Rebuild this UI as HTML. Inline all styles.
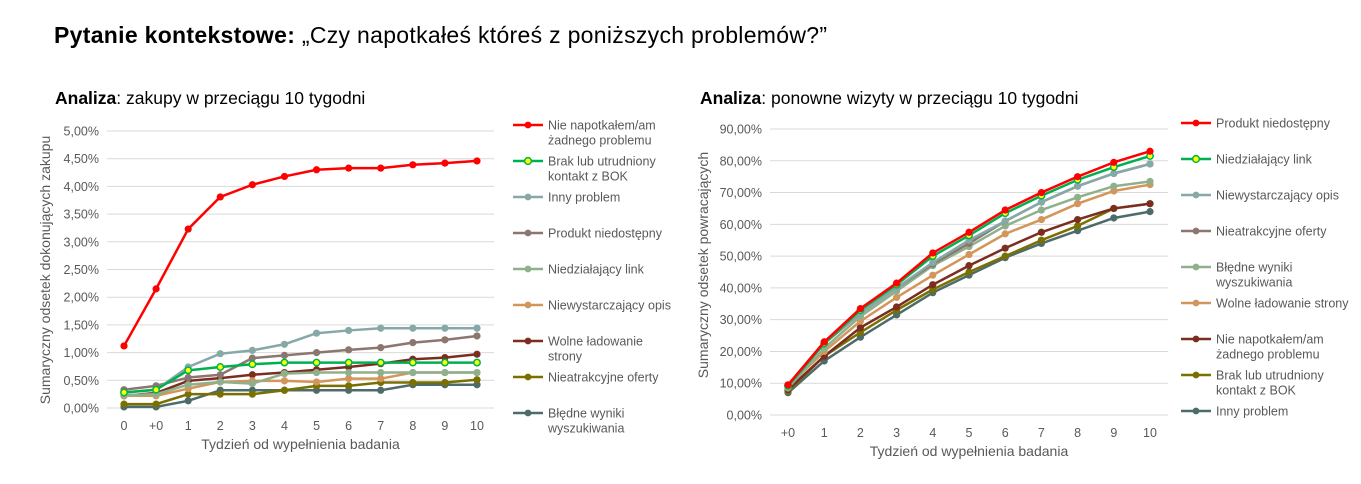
<!DOCTYPE html>
<html><head><meta charset="utf-8"><style>
body{margin:0;background:#fff;font-family:"Liberation Sans",Arial,sans-serif;}
svg text{font-family:"Liberation Sans",Arial,sans-serif;}
</style></head><body>
<svg id="s" width="1361" height="479" xmlns="http://www.w3.org/2000/svg">
<text x="54" y="43" font-size="23" letter-spacing="0.3" fill="#000"><tspan font-weight="bold">Pytanie kontekstowe:</tspan> „Czy napotkałeś któreś z poniższych problemów?”</text>
<text x="55" y="104" font-size="17.5" fill="#000"><tspan font-weight="bold">Analiza</tspan>: zakupy w przeciągu 10 tygodni</text>
<text x="700" y="104" font-size="17.5" fill="#000"><tspan font-weight="bold">Analiza</tspan>: ponowne wizyty w przeciągu 10 tygodni</text>
<g id="L"></g><g id="R"></g>
</svg>
<script>
const colors=["#ff0000","#00b050","#86a9a8","#8c7670","#8fb08c","#d4955a","#7b2e20","#7a7000","#4d6b6b"];
const leftCats=["0","+0","1","2","3","4","5","6","7","8","9","10"];
const leftTicks=["0,00%","0,50%","1,00%","1,50%","2,00%","2,50%","3,00%","3,50%","4,00%","4,50%","5,00%"];
const leftNames=[["Nie napotkałem/am","żadnego problemu"],["Brak lub utrudniony","kontakt z BOK"],["Inny problem"],["Produkt niedostępny"],["Niedziałający link"],["Niewystarczający opis"],["Wolne ładowanie","strony"],["Nieatrakcyjne oferty"],["Błędne wyniki","wyszukiwania"]];
const leftS0=[1.12,2.15,3.23,3.81,4.03,4.18,4.30,4.33,4.33,4.39,4.42,4.46];
const leftS1=[0.28,0.33,0.68,0.74,0.79,0.82,0.82,0.82,0.82,0.82,0.82,0.82];
const leftS2=[0.28,0.33,0.74,0.98,1.04,1.15,1.35,1.40,1.44,1.44,1.44,1.44];
const leftS3=[0.33,0.40,0.55,0.60,0.90,0.95,1.00,1.05,1.09,1.18,1.23,1.30];
const leftS4=[0.23,0.25,0.42,0.47,0.44,0.62,0.64,0.64,0.64,0.64,0.64,0.64];
const leftS5=[0.22,0.22,0.35,0.47,0.49,0.49,0.47,0.53,0.53,0.64,0.64,0.64];
const leftS6=[0.22,0.27,0.49,0.54,0.60,0.64,0.69,0.74,0.80,0.88,0.91,0.97];
const leftS7=[0.07,0.07,0.25,0.25,0.25,0.32,0.40,0.40,0.46,0.46,0.46,0.51];
const leftS8=[0.02,0.02,0.13,0.32,0.32,0.32,0.32,0.32,0.32,0.42,0.42,0.42];
const rightCats=["+0","1","2","3","4","5","6","7","8","9","10"];
const rightTicks=["0,00%","10,00%","20,00%","30,00%","40,00%","50,00%","60,00%","70,00%","80,00%","90,00%"];
const rightNames=[["Produkt niedostępny"],["Niedziałający link"],["Niewystarczający opis"],["Nieatrakcyjne oferty"],["Błędne wyniki","wyszukiwania"],["Wolne ładowanie strony"],["Nie napotkałem/am","żadnego problemu"],["Brak lub utrudniony","kontakt z BOK"],["Inny problem"]];
const rightS0=[9.5,23,33.5,41.5,51,57.5,64.5,70,75,79.5,83];
const rightS1=[9.2,22.5,33,41,50,56.5,63.5,69,74,78,81.5];
const rightS2=[9,23,32,40,48,55,61,67,72,76,79];
const rightS3=[9,22.5,32,40,47.5,54,61,67,72,76,79];
const rightS4=[8.5,21,31,39,47,53,59.5,64.5,68.5,72,73.5];
const rightS5=[9,20,29.5,37,44,50.5,57,61.5,66.5,70.5,72.5];
const rightS6=[8,18.5,27.5,34,41,47,52.5,57.5,61.5,65,66.5];
const rightS7=[7.5,18.5,26,33,39.5,45,50,55,59.5,65,66.5];
const rightS8=[7,17,24.5,31.5,38.5,44,49.5,54,58,62,64];
const NS="http://www.w3.org/2000/svg";
function mk(p,t,a){const e=document.createElementNS(NS,t);for(const k in a)e.setAttribute(k,a[k]);p.appendChild(e);return e;}
function chart(g,o){
 const{cats,ticks,series,names,x0,x1,y0,y1,ymax,gx0,gx1,leg,ylab,lx,ly}=o;
 const xs=i=>x0+(x1-x0)*i/(cats.length-1);
 const ys=v=>y0-(y0-y1)*v/ymax;
 ticks.forEach((t,i)=>{const v=ymax*i/(ticks.length-1);
  const l=mk(g,"line",{x1:gx0,x2:gx1,y1:ys(v),y2:ys(v),stroke:"#d9d9d9","stroke-width":1});
  
  
  const tx=mk(g,"text",{x:gx0-8,y:ys(v)+4.5,"text-anchor":"end","font-size":12.5,fill:"#595959"});tx.textContent=t;
  
  });
 cats.forEach((c,i)=>{const tx=mk(g,"text",{x:xs(i),y:y0+22,"text-anchor":"middle","font-size":12.5,fill:"#595959"});tx.textContent=c;
  
  });
 const xt=mk(g,"text",{x:(gx0+gx1)/2,y:y0+41,"text-anchor":"middle","font-size":14,fill:"#595959"});xt.textContent="Tydzień od wypełnienia badania";
 
 
 const yt=mk(g,"text",{x:0,y:0,"text-anchor":"middle","font-size":14,fill:"#595959",transform:`translate(${lx},${ly}) rotate(-90)`});yt.textContent=ylab;
 
 
 for(let s=series.length-1;s>=0;s--){const d=series[s];const c=colors[s];
  const pl=mk(g,"polyline",{points:d.map((v,i)=>xs(i)+","+ys(v)).join(" "),fill:"none",stroke:c,"stroke-width":2.5,"stroke-linejoin":"round"});
  
  
  d.forEach((v,i)=>{const m=mk(g,"circle",{cx:xs(i),cy:ys(v),r:s==1?3.2:3.6,fill:s==1?"#ffff00":c,stroke:c,"stroke-width":s==1?1.5:0});
   
   });}
 names.forEach((n,i)=>{const y=leg.y+leg.dy*i;const c=colors[i];
  const ll=mk(g,"line",{x1:leg.x,x2:leg.x+30,y1:y,y2:y,stroke:c,"stroke-width":2.5});
  
  
  mk(g,"circle",{cx:leg.x+15,cy:y,r:3.4,fill:i==1?"#ffff00":c,stroke:c,"stroke-width":i==1?1.5:0});
  n.forEach((t,j)=>{const tx=mk(g,"text",{x:leg.x+35,y:y+4.5+j*15,"font-size":12.5,fill:"#595959"});tx.textContent=t;
   
   });});
}
chart(document.getElementById("L"),{cats:leftCats,ticks:leftTicks,series:[leftS0,leftS1,leftS2,leftS3,leftS4,leftS5,leftS6,leftS7,leftS8],names:leftNames,
 x0:124,x1:477,y0:408,y1:131,ymax:5,gx0:107,gx1:494,leg:{x:513,y:125,dy:36},ylab:"Sumaryczny odsetek dokonujących zakupu",lx:50,ly:270});
chart(document.getElementById("R"),{cats:rightCats,ticks:rightTicks,series:[rightS0,rightS1,rightS2,rightS3,rightS4,rightS5,rightS6,rightS7,rightS8],names:rightNames,
 x0:788,x1:1150,y0:415,y1:129,ymax:90,gx0:770,gx1:1168,leg:{x:1181,y:123,dy:36},ylab:"Sumaryczny odsetek powracających",lx:708,ly:265});
</script>
</body></html>
